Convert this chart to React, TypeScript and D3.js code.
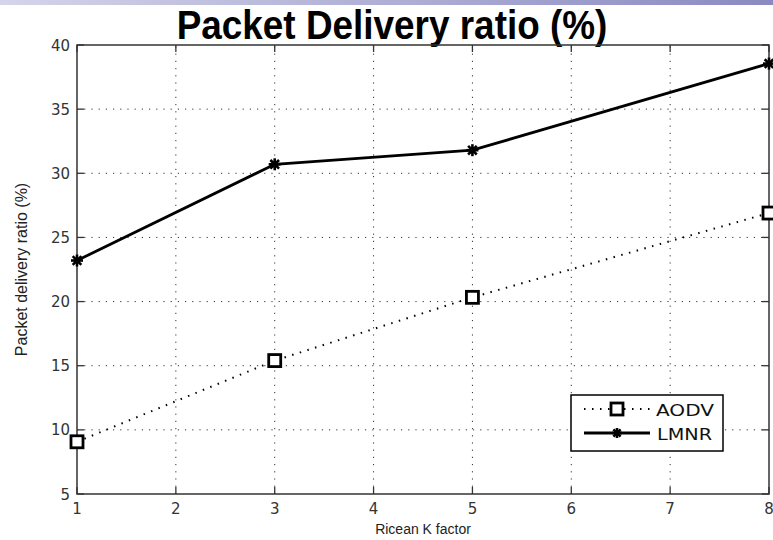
import React from "react";
import * as d3 from "d3";

const kFactor = [1, 3, 5, 8];
const aodv = [9.07, 15.4, 20.33, 26.9];
const lmnr = [23.2, 30.7, 31.8, 38.55];
const xTicks = [1, 2, 3, 4, 5, 6, 7, 8];
const yTicks = [5, 10, 15, 20, 25, 30, 35, 40];
const seriesNames = ["AODV", "LMNR"];

const W = 773;
const H = 540;
const L = 77, R = 769, T = 45, B = 494;

function Star({ x, y, s = 6 }: { x: number; y: number; s?: number }) {
  const d = s * 0.72;
  return (
    <g stroke="#000" strokeWidth={2.6} strokeLinecap="butt">
      <line x1={x - s} y1={y} x2={x + s} y2={y} />
      <line x1={x} y1={y - s} x2={x} y2={y + s} />
      <line x1={x - d} y1={y - d} x2={x + d} y2={y + d} />
      <line x1={x - d} y1={y + d} x2={x + d} y2={y - d} />
      <circle cx={x} cy={y} r={3.2} fill="#000" stroke="none" />
    </g>
  );
}

function Square({ x, y, s = 6 }: { x: number; y: number; s?: number }) {
  return (
    <rect x={x - s} y={y - s} width={2 * s} height={2 * s} fill="#fff" stroke="#000" strokeWidth={2.8} />
  );
}

export default function App() {
  const x = d3.scaleLinear().domain([1, 8]).range([L, R]);
  const y = d3.scaleLinear().domain([5, 40]).range([B, T]);
  const line = d3
    .line<number>()
    .x((_, i) => x(kFactor[i]))
    .y((v) => y(v));

  const font = "'Liberation Sans', Arial, sans-serif";
  const tickFont = "'DejaVu Sans', Verdana, sans-serif";
  const tickLen = 7;

  return (
    <svg
      width={W}
      height={H}
      style={{ position: "absolute", left: 0, top: 0, background: "#fff" }}
      fontFamily={font}
    >
      <defs>
        <linearGradient id="band" x1="0" x2="1" y1="0" y2="0">
          <stop offset="0" stopColor="#d4d4ea" />
          <stop offset="1" stopColor="#8a8ac2" />
        </linearGradient>
      </defs>
      <rect x={0} y={0} width={W} height={5} fill="url(#band)" />

      {/* title */}
      <text
        transform="translate(392,39) scale(0.9,1)"
        textAnchor="middle"
        fontWeight="bold"
        fontSize={41}
        fill="#000"
      >
        Packet Delivery ratio (%)
      </text>

      {/* grid */}
      <g stroke="#333" strokeWidth={1} strokeDasharray="1.2,6">
        {xTicks.slice(1, -1).map((t) => (
          <line key={"gx" + t} x1={x(t)} x2={x(t)} y1={B} y2={T} />
        ))}
        {yTicks.slice(1, -1).map((t) => (
          <line key={"gy" + t} x1={L} x2={R} y1={y(t)} y2={y(t)} />
        ))}
      </g>

      {/* ticks */}
      <g stroke="#333" strokeWidth={1.3}>
        {xTicks.map((t) => (
          <g key={"tx" + t}>
            <line x1={x(t)} x2={x(t)} y1={B} y2={B - tickLen} />
            <line x1={x(t)} x2={x(t)} y1={T} y2={T + tickLen} />
          </g>
        ))}
        {yTicks.map((t) => (
          <g key={"ty" + t}>
            <line x1={L} x2={L + tickLen} y1={y(t)} y2={y(t)} />
            <line x1={R} x2={R - tickLen} y1={y(t)} y2={y(t)} />
          </g>
        ))}
      </g>

      {/* axes box */}
      <rect x={L} y={T} width={R - L} height={B - T} fill="none" stroke="#333" strokeWidth={1.5} />

      {/* tick labels */}
      <g fontSize={15} fill="#333" fontFamily={tickFont}>
        {xTicks.map((t) => (
          <text key={"lx" + t} x={x(t)} y={514} textAnchor="middle">
            {t}
          </text>
        ))}
        {yTicks.map((t) => (
          <text key={"ly" + t} x={70} y={y(t) + 5.5} textAnchor="end">
            {t}
          </text>
        ))}
      </g>

      {/* axis labels */}
      <text x={(L + R) / 2} y={534} textAnchor="middle" fontSize={14} fill="#222">
        Ricean K factor
      </text>
      <text
        transform={`translate(27, ${(T + B) / 2}) rotate(-90)`}
        textAnchor="middle"
        fontSize={16}
        fill="#222"
      >
        Packet delivery ratio (%)
      </text>

      {/* AODV */}
      <path d={line(aodv) || ""} fill="none" stroke="#000" strokeWidth={2} strokeDasharray="1.5,6.5" />
      {aodv.map((v, i) => (
        <Square key={"a" + i} x={x(kFactor[i])} y={y(v)} />
      ))}

      {/* LMNR */}
      <path d={line(lmnr) || ""} fill="none" stroke="#000" strokeWidth={2.8} />
      {lmnr.map((v, i) => (
        <Star key={"l" + i} x={x(kFactor[i])} y={y(v)} />
      ))}

      {/* legend */}
      <g>
        <rect x={571} y={395} width={152} height={56} fill="#fff" stroke="#000" strokeWidth={1.5} />
        <line x1={584} x2={650} y1={409} y2={409} stroke="#000" strokeWidth={2} strokeDasharray="1.5,6.5" />
        <Square x={617} y={409} />
        <line x1={584} x2={650} y1={433} y2={433} stroke="#000" strokeWidth={2.8} />
        <Star x={617} y={433} s={5} />
        <g fontFamily={tickFont} fontSize={16} fill="#111">
          <text x={656} y={416} textLength={58} lengthAdjust="spacingAndGlyphs">
            {seriesNames[0]}
          </text>
          <text x={657} y={440} textLength={55} lengthAdjust="spacingAndGlyphs">
            {seriesNames[1]}
          </text>
        </g>
      </g>
    </svg>
  );
}
